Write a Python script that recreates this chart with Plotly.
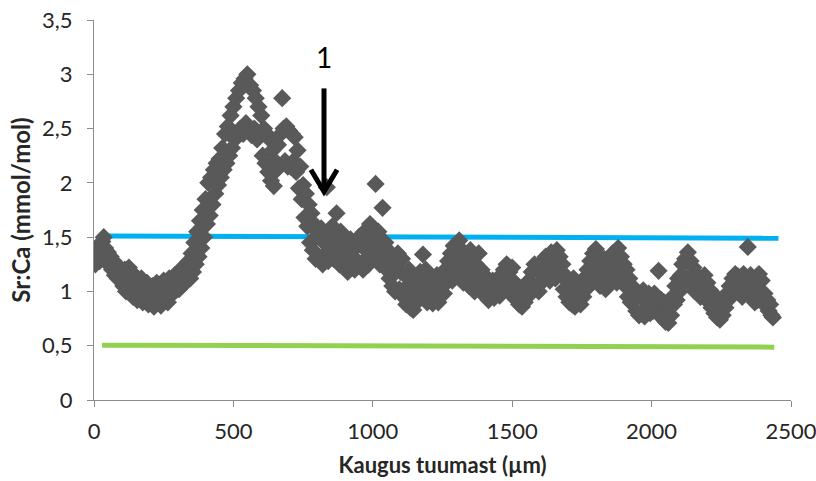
import plotly.graph_objects as go

# Sr:Ca ratio (mmol/mol) along the otolith transect, one value every 5 µm
# starting 5 µm from the core (each row covers 100 µm)
sr_ca = [
    1.25, 1.35, 1.42, 1.28, 1.38, 1.46, 1.50, 1.40, 1.30, 1.36, 1.24, 1.32, 1.20, 1.28, 1.15, 1.25, 1.12, 1.22, 1.10, 1.18,
    1.05, 1.20, 1.00, 1.15, 1.22, 0.98, 1.10, 0.95, 1.08, 1.14, 0.92, 1.05, 0.96, 1.12, 0.90, 1.02, 0.94, 1.08, 0.88, 1.00,
    0.92, 1.05, 0.86, 0.98, 1.08, 0.90, 1.02, 0.87, 0.96, 1.10, 0.92, 1.04, 0.90, 1.12, 0.96, 1.06, 1.00, 1.15, 1.02, 1.10,
    1.02, 1.20, 1.05, 1.22, 1.08, 1.18, 1.10, 1.28, 1.12, 1.35, 1.18, 1.45, 1.25, 1.55, 1.32, 1.65, 1.40, 1.75, 1.50, 1.85,
    1.62, 2.00, 1.70, 2.05, 1.80, 2.12, 1.90, 2.18, 1.98, 2.22, 2.05, 2.32, 2.12, 2.45, 2.18, 2.52, 2.25, 2.62, 2.32, 2.70,
    2.40, 2.78, 2.45, 2.85, 2.50, 2.92, 2.45, 2.96, 2.55, 3.00, 2.48, 2.90, 2.44, 2.85, 2.50, 2.78, 2.40, 2.70, 2.45, 2.62,
    2.25, 2.50, 2.18, 2.45, 2.10, 2.40, 2.02, 2.30, 1.97, 2.20, 2.12, 2.35, 2.15, 2.45, 2.78, 2.50, 2.20, 2.52, 2.15, 2.48,
    2.15, 2.45, 2.20, 2.42, 2.10, 2.30, 1.95, 2.15, 1.85, 1.98, 1.68, 1.90, 1.60, 1.80, 1.45, 1.72, 1.38, 1.62, 1.30, 1.55,
    1.50, 1.30, 1.58, 1.25, 1.45, 1.35, 1.96, 1.28, 1.52, 1.40, 1.60, 1.30, 1.48, 1.72, 1.36, 1.25, 1.55, 1.32, 1.45, 1.22,
    1.40, 1.18, 1.32, 1.48, 1.22, 1.38, 1.20, 1.45, 1.28, 1.50, 1.24, 1.42, 1.20, 1.55, 1.30, 1.45, 1.25, 1.62, 1.35, 1.50,
    1.40, 1.99, 1.30, 1.55, 1.25, 1.48, 1.77, 1.35, 1.45, 1.20, 1.38, 1.12, 1.30, 1.05, 1.28, 1.00, 1.22, 1.35, 1.02, 1.18,
    1.30, 0.95, 1.15, 0.88, 1.05, 1.20, 0.85, 1.00, 0.83, 1.10, 0.90, 1.02, 0.92, 1.18, 1.05, 1.34, 1.00, 1.20, 0.90, 1.08,
    0.92, 1.12, 0.89, 1.05, 0.95, 1.15, 0.90, 1.08, 1.00, 1.12, 0.98, 1.20, 1.08, 1.28, 1.12, 1.35, 1.10, 1.42, 1.20, 1.32,
    1.15, 1.47, 1.25, 1.38, 1.08, 1.30, 1.12, 1.22, 1.05, 1.38, 1.18, 1.30, 1.00, 1.25, 1.10, 1.35, 1.02, 1.20, 1.08, 1.15,
    0.95, 1.12, 0.92, 1.05, 0.98, 1.10, 0.94, 1.08, 1.00, 1.12, 0.96, 1.15, 1.02, 1.20, 1.05, 1.25, 1.00, 1.18, 1.08, 1.22,
    1.00, 1.08, 0.92, 1.05, 0.88, 1.02, 0.86, 0.98, 0.90, 1.06, 0.95, 1.10, 1.00, 1.18, 1.02, 1.25, 1.05, 1.20, 1.00, 1.22,
    1.08, 1.28, 1.12, 1.32, 1.15, 1.25, 1.10, 1.36, 1.18, 1.30, 1.12, 1.38, 1.20, 1.32, 1.15, 1.25, 1.02, 1.15, 0.95, 1.10,
    0.90, 1.08, 0.88, 1.12, 0.86, 1.02, 0.92, 1.05, 0.88, 1.10, 0.95, 1.12, 1.02, 1.20, 1.05, 1.28, 1.10, 1.35, 1.15, 1.39,
    1.20, 1.32, 1.05, 1.25, 1.10, 1.30, 1.02, 1.20, 1.12, 1.28, 1.10, 1.35, 1.15, 1.25, 1.08, 1.40, 1.18, 1.32, 1.12, 1.25,
    1.05, 1.20, 0.95, 1.12, 0.90, 1.05, 0.92, 1.00, 0.82, 0.98, 0.78, 0.95, 0.80, 1.01, 0.77, 0.92, 0.85, 0.98, 0.80, 0.95,
    0.82, 0.98, 0.85, 0.95, 1.19, 0.78, 0.92, 0.75, 0.90, 0.72, 0.88, 0.71, 0.85, 0.78, 0.95, 0.88, 1.05, 0.92, 1.12, 1.00,
    1.15, 1.25, 1.08, 1.30, 1.12, 1.36, 1.10, 1.28, 1.05, 1.22, 1.00, 1.16, 1.05, 1.12, 0.95, 1.10, 0.98, 1.15, 0.95, 1.08,
    0.90, 1.01, 0.85, 0.98, 0.80, 0.95, 0.76, 0.90, 0.74, 0.85, 0.78, 0.92, 0.85, 0.98, 0.92, 1.05, 0.98, 1.12, 1.00, 1.16,
    1.05, 1.14, 0.98, 1.10, 0.95, 1.16, 1.00, 1.12, 1.41, 1.05, 1.15, 0.95, 1.10, 0.90, 1.05, 0.92, 1.16, 0.98, 1.10, 0.89,
    0.98, 0.88, 0.92, 0.82, 0.88, 0.78, 0.76,
]

# Scan positions (µm from the core) matching each value above
STEP_UM = 5
distance_um = [STEP_UM * (i + 1) for i in range(len(sr_ca))]

# Reference levels drawn as two-point lines
upper_x = [40, 2455]
upper_y = [1.51, 1.49]
lower_x = [29, 2440]
lower_y = [0.505, 0.487]

x_ticks = [0, 500, 1000, 1500, 2000, 2500]
y_ticks = [0, 0.5, 1, 1.5, 2, 2.5, 3, 3.5]

FONT = "Lato"
TEXT = "#262626"
AXIS = "#8c8c8c"

fig = go.Figure()

fig.add_trace(go.Scatter(
    x=upper_x, y=upper_y, mode="lines",
    line=dict(color="#00B0F0", width=5), hoverinfo="skip", showlegend=False,
))
fig.add_trace(go.Scatter(
    x=lower_x, y=lower_y, mode="lines",
    line=dict(color="#92D050", width=5), hoverinfo="skip", showlegend=False,
))
fig.add_trace(go.Scatter(
    x=distance_um, y=sr_ca, mode="markers",
    marker=dict(symbol="diamond", size=14, color="#595959", line=dict(width=0)),
    showlegend=False,
))

# Arrow marking point "1"
arrow_x = 825
fig.add_shape(type="line", xref="x", yref="y",
              x0=arrow_x, x1=arrow_x, y0=2.87, y1=1.95,
              line=dict(color="black", width=5))
fig.add_shape(type="path", xref="x", yref="y",
              path=f"M {arrow_x - 47},2.12 L {arrow_x},1.92 L {arrow_x + 47},2.12",
              line=dict(color="black", width=5))
fig.add_annotation(x=arrow_x, y=3.16, xref="x", yref="y", text="1",
                   showarrow=False, font=dict(family=FONT, size=28, color="black"))

fig.update_layout(
    width=816, height=481,
    margin=dict(l=94, r=25, t=20, b=81),
    paper_bgcolor="white", plot_bgcolor="white",
    separators=", ",
    font=dict(family=FONT, size=22, color=TEXT),
)
fig.update_xaxes(
    range=[0, 2500], tickvals=x_ticks, showgrid=False, zeroline=False,
    showline=True, linecolor=AXIS, linewidth=1, automargin=False,
    ticks="outside", ticklen=6, tickcolor=AXIS, ticklabelstandoff=6,
    ticklabeloverflow="allow",
    tickfont=dict(family=FONT, size=22, color=TEXT),
    title=dict(text="<b>Kaugus tuumast (µm)</b>", font=dict(family=FONT, size=22, color=TEXT), standoff=14),
)
fig.update_yaxes(
    range=[0, 3.5], tickvals=y_ticks, showgrid=False, zeroline=False,
    showline=True, linecolor=AXIS, linewidth=1, automargin=False,
    ticks="outside", ticklen=6, tickcolor=AXIS, ticklabelstandoff=10,
    tickfont=dict(family=FONT, size=22, color=TEXT),
    title=dict(text="<b>Sr:Ca (mmol/mol)</b>", font=dict(family=FONT, size=24, color=TEXT), standoff=4),
)

fig.write_html("out.html")
